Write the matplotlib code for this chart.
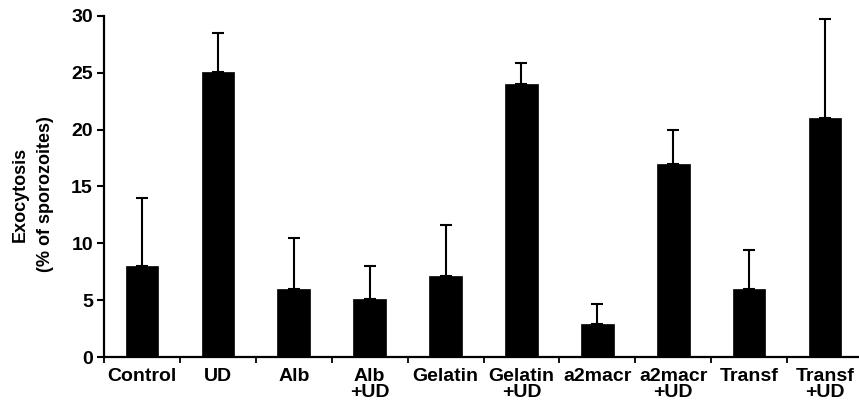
import matplotlib
matplotlib.use("Agg")
import matplotlib.pyplot as plt
import numpy as np
from matplotlib.ticker import FixedLocator

plt.rcParams['font.family'] = ['Liberation Sans', 'DejaVu Sans']
plt.rcParams['font.weight'] = 'bold'

categories = ["Control", "UD", "Alb", "Alb\n+UD", "Gelatin", "Gelatin\n+UD",
              "a2macr", "a2macr\n+UD", "Transf", "Transf\n+UD"]
exocytosis = [8.0, 25.1, 6.0, 5.1, 7.1, 24.0, 2.9, 17.0, 6.0, 21.0]
sem_upper = [6.0, 3.4, 4.5, 2.9, 4.5, 1.85, 1.8, 3.0, 3.45, 8.7]
y_ticks = [0, 5, 10, 15, 20, 25, 30]

fig = plt.figure(figsize=(8.59, 4.05), dpi=100)
ax = fig.add_axes([104 / 859, 48 / 405, 759 / 859, 341 / 405])

x = np.arange(len(categories))
ax.bar(x, exocytosis, width=0.43, color="black", edgecolor="black", linewidth=0.5,
       yerr=[np.zeros(len(sem_upper)), sem_upper],
       error_kw=dict(ecolor="black", elinewidth=1.5, capsize=4.3, capthick=1.5),
       zorder=2)

ax.set_xlim(-0.5, len(categories) - 0.5)
ax.set_ylim(0, 30)
ax.set_yticks(y_ticks)
ax.set_xticks(x)
ax.set_xticklabels(categories, fontsize=14, fontweight='bold', linespacing=0.95)
ax.xaxis.set_minor_locator(FixedLocator(np.arange(-0.5, len(categories), 1.0)))
ax.tick_params(axis='x', which='major', length=0, pad=8)
ax.tick_params(axis='x', which='minor', length=4, width=1.3, direction='out')
ax.tick_params(axis='y', which='major', length=5, width=1.5, pad=3, labelsize=14)
for lbl in ax.get_yticklabels():
    lbl.set_fontweight('bold')

for side in ("top", "right"):
    ax.spines[side].set_visible(False)
for side in ("left", "bottom"):
    ax.spines[side].set_linewidth(1.6)

fig.text(33 / 859, 1 - 194 / 405, "Exocytosis\n(% of sporozoites)", rotation=90,
         ha='center', va='center', fontsize=13, fontweight='bold',
         linespacing=1.6, multialignment='center')

fig.savefig("out.png", dpi=100)
